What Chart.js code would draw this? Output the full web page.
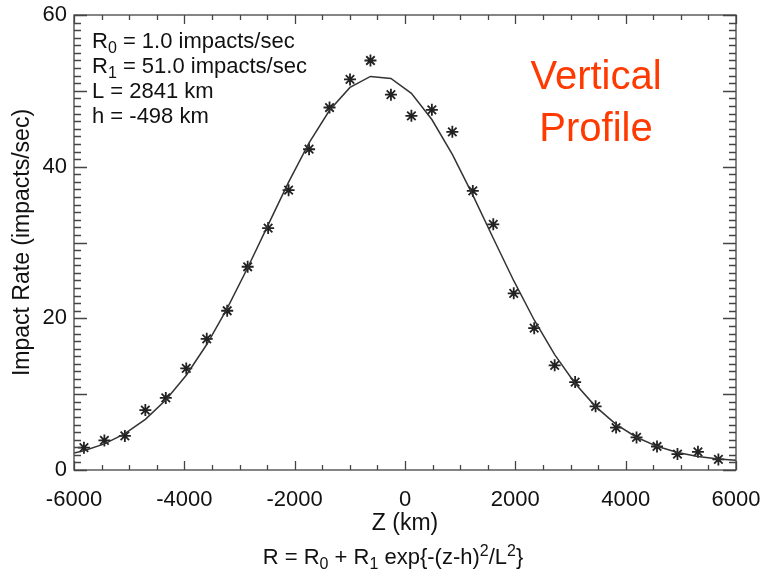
<!DOCTYPE html>
<html>
<head>
<meta charset="utf-8">
<script src="https://cdn.jsdelivr.net/npm/chart.js@4.4.0/dist/chart.umd.min.js"></script>
<style>
  html, body { margin: 0; padding: 0; background: #fff; }
</style>
</head>
<body>
<canvas id="canvas" width="763" height="573"></canvas>
<script>
// measured impact rates per altitude bin
var zKm = [-5820, -5449, -5078, -4707, -4336, -3965, -3594, -3223, -2852, -2481, -2110,
  -1739, -1368, -997, -626, -255, 116, 487, 858, 1229, 1600, 1971, 2342, 2713, 3084,
  3455, 3826, 4197, 4568, 4939, 5310, 5681];
var impactRate = [2.95, 3.9, 4.5, 7.9, 9.5, 13.4, 17.3, 21.0, 26.8, 31.9, 36.9,
  42.3, 47.8, 51.5, 54.0, 49.5, 46.7, 47.5, 44.6, 36.8, 32.4, 23.3, 18.7, 13.8, 11.6,
  8.4, 5.6, 4.3, 3.1, 2.1, 2.4, 1.4];

// gaussian fit line
var fitZ = [-6191, -5820, -5449, -5078, -4707, -4336, -3965, -3594, -3223, -2852, -2481,
  -2110, -1739, -1368, -997, -626, -255, 116, 487, 858, 1229, 1600, 1971, 2342, 2713,
  3084, 3455, 3826, 4197, 4568, 4939, 5310, 5681, 6052];
var fitRate = [1.92, 2.53, 3.45, 4.79, 6.68, 9.22, 12.50, 16.55, 21.32, 26.67, 32.33,
  37.96, 43.14, 47.44, 50.45, 51.90, 51.63, 49.67, 46.22, 41.61, 36.24, 30.56, 24.96,
  19.78, 15.22, 11.40, 8.36, 6.03, 4.32, 3.12, 2.31, 1.78, 1.45, 1.25];

var xTicks = [-6000, -4000, -2000, 0, 2000, 4000, 6000];
var yTicks = [0, 20, 40, 60];

var FONT = "'Liberation Sans', Arial, Helvetica, sans-serif";

// text pieces: [text, kind] kind = '' | 'sub' | 'sup'
var fitText = [
  [["R", ""], ["0", "sub"], [" = 1.0 impacts/sec", ""]],
  [["R", ""], ["1", "sub"], [" = 51.0 impacts/sec", ""]],
  [["L = 2841 km", ""]],
  [["h = -498 km", ""]]
];
var formula = [["R = R", ""], ["0", "sub"], [" + R", ""], ["1", "sub"],
  [" exp{-(z-h)", ""], ["2", "sup"], ["/L", ""], ["2", "sup"], ["}", ""]];

function pieceFont(kind, size) {
  return (kind ? Math.round(size * 0.72) : size) + "px " + FONT;
}

function richWidth(ctx, parts, size) {
  var w = 0;
  parts.forEach(function (p) {
    ctx.font = pieceFont(p[1], size);
    w += ctx.measureText(p[0]).width;
  });
  return w;
}

function drawRich(ctx, parts, x, y, size, align) {
  if (align === "center") x -= richWidth(ctx, parts, size) / 2;
  ctx.textAlign = "left";
  ctx.textBaseline = "alphabetic";
  parts.forEach(function (p) {
    ctx.font = pieceFont(p[1], size);
    var dy = p[1] === "sub" ? size * 0.22 : (p[1] === "sup" ? -size * 0.38 : 0);
    ctx.fillText(p[0], x, y + dy);
    x += ctx.measureText(p[0]).width;
  });
}

var framePlugin = {
  id: "frame",
  afterDatasetsDraw: function (chart) {
    var ctx = chart.ctx, a = chart.chartArea;
    var xs = chart.scales.x, ys = chart.scales.y;
    ctx.save();
    ctx.strokeStyle = "#444";
    ctx.lineWidth = 1.3;
    ctx.strokeRect(a.left, a.top, a.right - a.left, a.bottom - a.top);
    ctx.beginPath();
    for (var v = -6000; v <= 6000; v += 500) {
      var px = Math.round(xs.getPixelForValue(v)) + 0.5;
      var len = v % 2000 === 0 ? 9 : 5;
      ctx.moveTo(px, a.bottom); ctx.lineTo(px, a.bottom - len);
      ctx.moveTo(px, a.top); ctx.lineTo(px, a.top + len);
    }
    for (var r = 0; r <= 60; r += 1) {
      var py = Math.round(ys.getPixelForValue(r)) + 0.5;
      var l2 = r % 10 === 0 ? 13 : 7;
      ctx.moveTo(a.left, py); ctx.lineTo(a.left + l2, py);
      ctx.moveTo(a.right, py); ctx.lineTo(a.right - l2, py);
    }
    ctx.stroke();
    ctx.restore();
  },
  afterDraw: function (chart) {
    var ctx = chart.ctx, a = chart.chartArea;
    ctx.save();
    ctx.fillStyle = "#111";
    fitText.forEach(function (line, i) {
      drawRich(ctx, line, a.left + 18, 48 + i * 25, 22, "left");
    });
    drawRich(ctx, formula, (a.left + a.right) / 2 - 12, 564, 22, "center");
    ctx.fillStyle = "#ff3a00";
    ctx.font = "40px " + FONT;
    ctx.textAlign = "center";
    ctx.fillText("Vertical", 596, 89);
    ctx.fillText("Profile", 596, 141);
    ctx.restore();
  }
};

var ctx = document.getElementById("canvas").getContext("2d");
var chart = new Chart(ctx, {
  type: "scatter",
  data: {
    datasets: [{
      label: "Fit",
      type: "line",
      data: fitZ.map(function (z, i) { return { x: z, y: fitRate[i] }; }),
      borderColor: "#333",
      borderWidth: 1.5,
      pointRadius: 0,
      tension: 0,
      fill: false
    }, {
      label: "Impacts",
      data: zKm.map(function (z, i) { return { x: z, y: impactRate[i] }; }),
      pointStyle: "star",
      pointRadius: 6,
      pointBorderWidth: 1.8,
      borderColor: "#222",
      backgroundColor: "#222"
    }]
  },
  options: {
    responsive: false,
    animation: false,
    devicePixelRatio: 1,
    layout: { padding: { left: 0, top: 15, right: 27, bottom: 36 } },
    plugins: { legend: { display: false }, tooltip: { enabled: false } },
    scales: {
      x: {
        type: "linear",
        min: -6000, max: 6000,
        afterBuildTicks: function (s) { s.ticks = xTicks.map(function (v) { return { value: v }; }); },
        afterFit: function (s) { s.height = 67; s.paddingLeft = 0; s.paddingRight = 0; },
        grid: { display: false },
        border: { display: false },
        ticks: {
          color: "#111", font: { family: FONT, size: 22 }, padding: 9, maxRotation: 0,
          callback: function (v) { return String(v); }
        },
        title: { display: true, text: "Z (km)", color: "#111", font: { family: FONT, size: 23 }, padding: 0 }
      },
      y: {
        type: "linear",
        min: 0, max: 60,
        afterBuildTicks: function (s) { s.ticks = yTicks.map(function (v) { return { value: v }; }); },
        afterFit: function (s) { s.width = 74; s.paddingTop = 0; s.paddingBottom = 0; },
        grid: { display: false },
        border: { display: false },
        ticks: { color: "#111", font: { family: FONT, size: 22 }, padding: -1 },
        title: { display: true, text: "Impact Rate (impacts/sec)", color: "#111", font: { family: FONT, size: 23 }, padding: { top: 9, bottom: 0 } }
      }
    }
  },
  plugins: [framePlugin]
});
</script>
</body>
</html>
